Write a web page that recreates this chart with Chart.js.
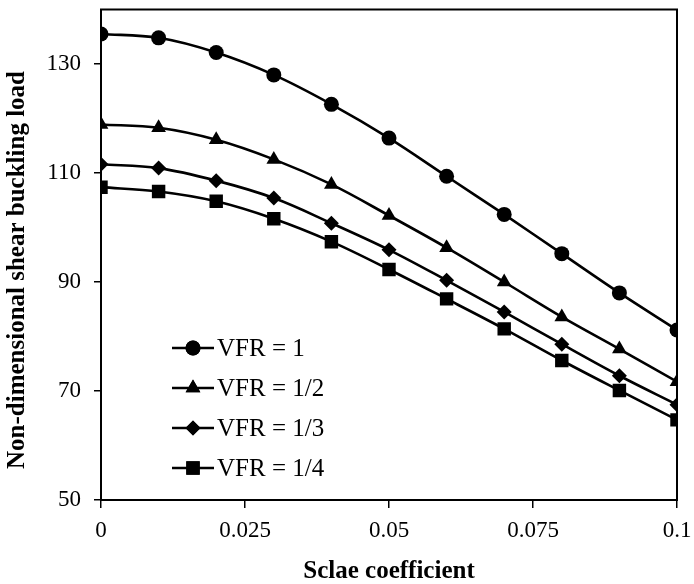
<!DOCTYPE html>
<html>
<head>
<meta charset="utf-8">
<script src="https://cdn.jsdelivr.net/npm/chart.js@4/dist/chart.umd.min.js"></script>
<style>
  html, body { margin: 0; padding: 0; background: #fff; }
  #wrap { width: 694px; height: 584px; }
</style>
</head>
<body>
<div id="wrap"><canvas id="chart" width="694" height="584"></canvas></div>
<script>
// abscisses (coefficient d'échelle)
var scale_coef = [0, 0.01, 0.02, 0.03, 0.04, 0.05, 0.06, 0.07, 0.08, 0.09, 0.1];

// valeurs
var vfr_1 = [135.5, 134.8, 132.1, 128.0, 122.6, 116.4, 109.4, 102.4, 95.2, 88.0, 81.2];
var vfr_1_2 = [118.9, 118.3, 116.1, 112.5, 107.9, 102.2, 96.3, 90.0, 83.6, 77.7, 71.7];
var vfr_1_3 = [111.6, 110.9, 108.6, 105.4, 100.8, 95.9, 90.3, 84.5, 78.6, 72.8, 67.5];
var vfr_1_4 = [107.4, 106.6, 104.8, 101.6, 97.4, 92.3, 86.9, 81.4, 75.6, 70.1, 64.7];

var series_labels = ['VFR = 1', 'VFR = 1/2', 'VFR = 1/3', 'VFR = 1/4'];
var x_ticks = [0, 0.025, 0.05, 0.075, 0.1];
var y_ticks = [50, 70, 90, 110, 130];
var y_title = 'Non-dimensional shear buckling load';

var serif = "'Liberation Serif', 'Times New Roman', serif";

function toPoints(values) {
	return values.map((v, i) => ({ x: scale_coef[i], y: v }));
}

function makeSet(label, values, style, radius) {
	return {
		label: label,
		data: toPoints(values),
		borderColor: '#000',
		backgroundColor: '#000',
		borderWidth: 2.6,
		pointStyle: style,
		pointRadius: radius,
		pointBorderWidth: 0,
		pointBackgroundColor: '#000',
		tension: 0.35,
		fill: false
	};
}

// cadre du graphique, titre Y et légende à l'intérieur
var boxAndLegend = {
	id: 'boxAndLegend',
	afterDraw(chart) {
		var ctx = chart.ctx;
		var a = chart.chartArea;
		ctx.save();
		ctx.strokeStyle = '#000';
		ctx.lineWidth = 2;
		ctx.strokeRect(a.left, a.top, a.right - a.left, a.bottom - a.top);

		// titre de l'axe Y
		ctx.save();
		ctx.translate(18, 270);
		ctx.rotate(-Math.PI / 2);
		ctx.font = 'bold 25px ' + serif;
		ctx.textAlign = 'center';
		ctx.textBaseline = 'middle';
		ctx.fillStyle = '#000';
		ctx.fillText(y_title, 0, 0);
		ctx.restore();

		// légende
		var x0 = 172, x1 = 214, y0 = 348, dy = 40;
		ctx.font = '25px ' + serif;
		ctx.textBaseline = 'middle';
		ctx.fillStyle = '#000';
		chart.data.datasets.forEach((ds, i) => {
			var y = y0 + i * dy;
			ctx.beginPath();
			ctx.lineWidth = 2.6;
			ctx.moveTo(x0, y);
			ctx.lineTo(x1, y);
			ctx.stroke();
			Chart.helpers.drawPoint(ctx, { pointStyle: ds.pointStyle, radius: ds.pointRadius, borderWidth: 0 }, (x0 + x1) / 2, y);
			ctx.fill();
			ctx.fillText(ds.label, x1 + 3, y + 1);
		});
		ctx.restore();
	}
};

var ctx = document.getElementById('chart');
var chart = new Chart(ctx, {
	type: 'line',
	data: {
		datasets: [
			makeSet(series_labels[0], vfr_1, 'circle', 7.5),
			makeSet(series_labels[1], vfr_1_2, 'triangle', 8.5),
			makeSet(series_labels[2], vfr_1_3, 'rectRot', 7.5),
			makeSet(series_labels[3], vfr_1_4, 'rect', 9.5)
		]
	},
	options: {
		responsive: false,
		animation: false,
		layout: { padding: { top: 7, right: 17, left: 0, bottom: 0 } },
		plugins: {
			legend: { display: false },
			tooltip: { enabled: false }
		},
		scales: {
			x: {
				type: 'linear',
				min: 0,
				max: 0.1,
				afterBuildTicks: s => { s.ticks = x_ticks.map(v => ({ value: v })); },
				afterFit: s => { s.height = 84; s.paddingLeft = 0; s.paddingRight = 0; },
				border: { color: '#000', width: 2 },
				grid: { drawOnChartArea: false, color: '#000', tickLength: 8, lineWidth: 1.5 },
				ticks: {
					color: '#000',
					padding: 9,
					maxRotation: 0,
					font: { family: serif, size: 23 },
					callback: v => String(v)
				},
				title: {
					display: true,
					text: 'Sclae coefficient',
					color: '#000',
					font: { family: serif, size: 25, weight: 'bold' },
					padding: { top: 4, bottom: -3 }
				}
			},
			y: {
				min: 50,
				max: 140,
				afterBuildTicks: s => { s.ticks = y_ticks.map(v => ({ value: v })); },
				afterFit: s => { s.width = 101; s.paddingTop = 0; s.paddingBottom = 0; },
				border: { color: '#000', width: 2 },
				grid: { drawOnChartArea: false, color: '#000', tickLength: 7, lineWidth: 1.5 },
				ticks: {
					color: '#000',
					padding: 13,
					font: { family: serif, size: 23 }
				}
			}
		}
	},
	plugins: [boxAndLegend]
});
</script>
</body>
</html>
